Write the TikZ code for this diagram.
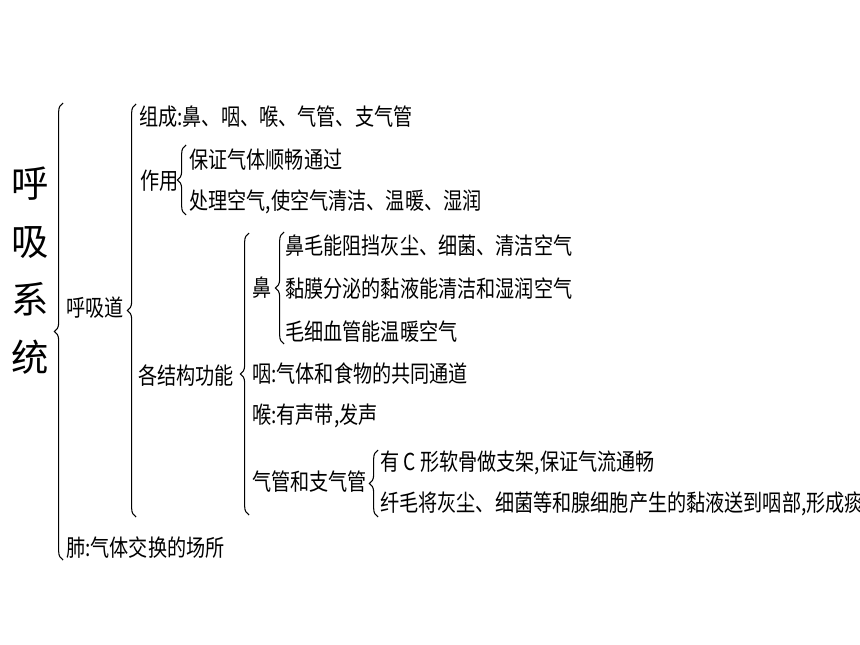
\documentclass[tikz,border=0pt]{standalone}
\usepackage{fontspec}
\setmainfont{Noto Sans CJK SC}[FakeStretch=0.82]
\newfontfamily\ttlfont{Noto Sans CJK SC}
\usetikzlibrary{decorations.pathreplacing}

\tikzset{
  brc/.style={decorate, decoration={brace, amplitude=6.5pt}, line width=0.8pt},
  leaf/.style={anchor=west, inner sep=0pt, font=\fontsize{17.5}{20}\selectfont},
  ttl/.style={inner sep=0pt, align=center, font=\ttlfont\fontsize{28}{43.5}\selectfont},
}

\begin{document}
\begin{tikzpicture}[x=0.75pt, y=-0.75pt]
        \useasboundingbox (0,0) rectangle (860,645);
        \clip (0,0) rectangle (860,645);

        \node[ttl] (sys) at (30,271) {呼\\吸\\系\\统};
        \node[leaf] (tract) at (66,308) {呼吸道};
        \node[leaf] (lung) at (66,548) {肺:气体交换的场所};

        \node[leaf] (comp) at (139,117) {组成:鼻、咽、喉、气管、支气管};
        \node[leaf] (func) at (140,181) {作用};
        \node[leaf] (func1) at (189,160) {保证气体顺畅通过};
        \node[leaf] (func2) at (189,202) {处理空气,使空气清洁、温暖、湿润};
        \node[leaf] (parts) at (138,376) {各结构功能};

        \node[leaf] (nose) at (252,288) {鼻};
        \node[leaf] (nose1) at (285,246) {鼻毛能阻挡灰尘、细菌、清洁空气};
        \node[leaf] (nose2) at (285,289) {黏膜分泌的黏液能清洁和湿润空气};
        \node[leaf] (nose3) at (285,332) {毛细血管能温暖空气};
        \node[leaf] (phar) at (252,374) {咽:气体和食物的共同通道};
        \node[leaf] (lar) at (252,416) {喉:有声带,发声};
        \node[leaf] (trach) at (252,482) {气管和支气管};
        \node[leaf] (trach1) at (380,463) {有 C 形软骨做支架,保证气流通畅};
        \node[leaf] (trach2) at (380,504) {纤毛将灰尘、细菌等和腺细胞产生的黏液送到咽部,形成痰};

        % brace ends
        \coordinate (sysT) at (63,103);
        \coordinate (sysB) at (63,560);
        \coordinate (tractT) at (136,104);
        \coordinate (tractB) at (136,517);
        \coordinate (funcT) at (186,145);
        \coordinate (funcB) at (186,215);
        \coordinate (partsT) at (249,233);
        \coordinate (partsB) at (249,515);
        \coordinate (noseT) at (284,232);
        \coordinate (noseB) at (284,344);
        \coordinate (trachT) at (378,450);
        \coordinate (trachB) at (378,517);

        \draw[brc] (sysB) -- (sysT);
        \draw[brc] (tractB) -- (tractT);
        \draw[brc] (funcB) -- (funcT);
        \draw[brc] (partsB) -- (partsT);
        \draw[brc] (noseB) -- (noseT);
        \draw[brc] (trachB) -- (trachT);
    \end{tikzpicture}
\end{document}
